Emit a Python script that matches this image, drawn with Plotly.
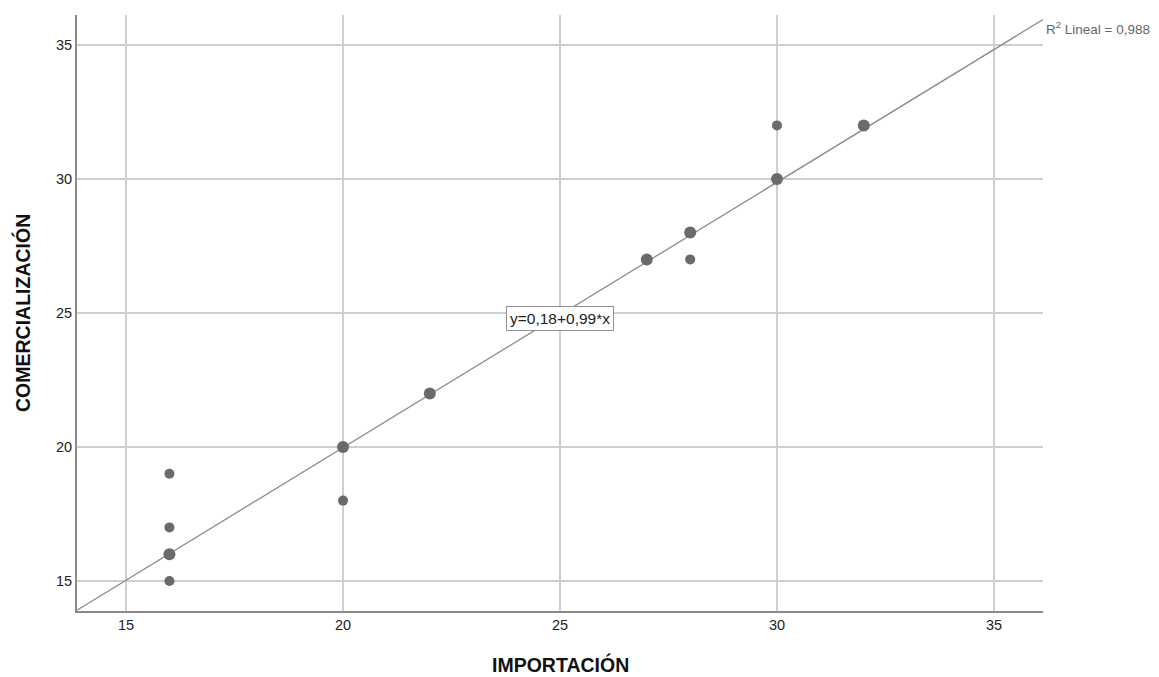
import plotly.graph_objects as go

importacion = [16, 16, 16, 16, 20, 20, 22, 27, 28, 28, 30, 30, 32]
comercializacion = [19, 17, 16, 15, 20, 18, 22, 27, 28, 27, 32, 30, 32]
overlap = [False, False, True, False, True, False, True, True, True, False, False, True, True]
fit_intercept = 0.18
fit_slope = 0.99
r2_text = "R<sup>2</sup> Lineal = 0,988"
eq_text = "y=0,18+0,99*x"
tick_vals = [15, 20, 25, 30, 35]
x_range = [13.87, 36.13]
y_range = [13.88, 36.12]

FONT = "Liberation Sans, Arial, sans-serif"
sizes = [12 if o else 10 for o in overlap]

fig = go.Figure()
fx = x_range
fy = [fit_intercept + fit_slope * v for v in fx]
fig.add_trace(go.Scatter(x=fx, y=fy, mode="lines",
                         line=dict(color="#8c8c8c", width=1.3),
                         hoverinfo="skip", showlegend=False, cliponaxis=False))
fig.add_trace(go.Scatter(x=importacion, y=comercializacion, mode="markers",
                         marker=dict(color="#6a6a6a", size=sizes, opacity=1, line=dict(width=0)),
                         showlegend=False))

fig.add_annotation(x=25, y=24.8, text=eq_text, showarrow=False,
                   bgcolor="white", bordercolor="#909090", borderwidth=1, borderpad=3,
                   font=dict(family=FONT, size=15.5, color="#222"))
fig.add_annotation(xref="paper", yref="paper", x=1.0, y=1.0, xanchor="left", yanchor="middle",
                   xshift=1, yshift=-13, text=r2_text, showarrow=False,
                   font=dict(family=FONT, size=13.5, color="#666"))
fig.add_annotation(xref="paper", yref="paper", x=0.5, y=0, xanchor="center", yanchor="middle",
                   yshift=-53, text="<b>IMPORTACIÓN</b>", showarrow=False,
                   font=dict(family=FONT, size=19.5, color="#111"))
fig.add_annotation(xref="paper", yref="paper", x=0, y=0.5, xanchor="center", yanchor="middle",
                   xshift=-55, textangle=-90, text="<b>COMERCIALIZACIÓN</b>", showarrow=False,
                   font=dict(family=FONT, size=19.5, color="#111"))

axis_common = dict(showgrid=True, gridcolor="#cfcfcf", gridwidth=1.5, automargin=False,
                   zeroline=False, showline=True, linecolor="#8a8a8a", linewidth=2,
                   tickvals=tick_vals, ticks="", ticklen=0,
                   tickfont=dict(family=FONT, size=14.5, color="#222"))

# page body adds an 8px offset; figure is sized so the plot lands where the reference has it
fig.update_layout(
    width=1151, height=669,
    margin=dict(l=69, r=116, t=7, b=66, autoexpand=False),
    plot_bgcolor="white", paper_bgcolor="white",
    xaxis=dict(range=x_range, **axis_common),
    yaxis=dict(range=y_range, **axis_common),
)
fig.write_html("out.html")
